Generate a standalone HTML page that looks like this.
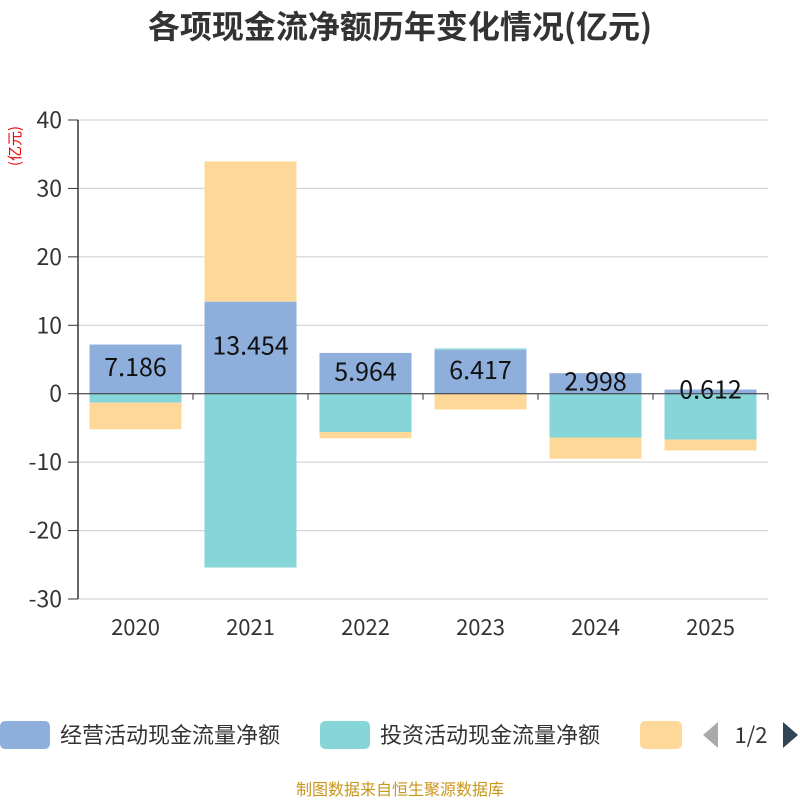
<!DOCTYPE html>
<html><head><meta charset="utf-8">
<style>
body{margin:0;background:#fff;}
svg text{font-family:"Noto Sans CJK SC","DejaVu Sans",sans-serif;}
</style></head>
<body>
<svg id="chart" width="800" height="800" xmlns="http://www.w3.org/2000/svg">
<text x="400" y="38" text-anchor="middle" font-size="32" font-weight="bold" fill="#333">各项现金流净额历年变化情况(亿元)</text>
<text x="16" y="146" font-size="15" fill="#e00" text-anchor="middle" dominant-baseline="middle" transform="rotate(-90 16 146)">(亿元)</text>
<g id="grid"></g>
<g id="bars"></g>
<g id="axes"></g>
<g>
<rect x="0" y="721" width="50" height="28" rx="5" fill="#8eaedb"/>
<text x="60" y="743" font-size="22" fill="#333">经营活动现金流量净额</text>
<rect x="320" y="721" width="50" height="28" rx="5" fill="#86d5d8"/>
<text x="380" y="743" font-size="22" fill="#333">投资活动现金流量净额</text>
<rect x="640" y="721" width="42" height="28" rx="5" fill="#fdd899"/>
<polygon points="718,722 718,748 703,735" fill="#aaa"/>
<text x="751" y="743" font-size="22" fill="#333" text-anchor="middle">1/2</text>
<polygon points="783,722 783,748 798,735" fill="#2f4554"/>
</g>
<text x="400" y="795" text-anchor="middle" font-size="16" fill="#c8961e">制图数据来自恒生聚源数据库</text>
</svg>
<script>
const categories=["2020","2021","2022","2023","2024","2025"];
const operating=[7.186,13.454,5.964,6.417,2.998,0.612];
const investing=[-1.3,-25.4,-5.6,0.2,-6.4,-6.7];
const financing=[-3.9,20.5,-0.9,-2.3,-3.1,-1.6];
const yTicks=[40,30,20,10,0,-10,-20,-30];
const NS="http://www.w3.org/2000/svg";
const x0=78,x1=768,yTop=120,yBot=599,vMax=40,vMin=-30;
function y(v){return yTop+(vMax-v)/(vMax-vMin)*(yBot-yTop);}
const band=(x1-x0)/categories.length;
function xc(i){return x0+band*(i+0.5);}
function mk(tag,attrs,parent){const e=document.createElementNS(NS,tag);for(const k in attrs)e.setAttribute(k,attrs[k]);parent.appendChild(e);return e;}
const grid=document.getElementById('grid'),bars=document.getElementById('bars'),axes=document.getElementById('axes');
yTicks.forEach(t=>{
  const l=mk('line',{x1:x0,x2:x1,y1:y(t),y2:y(t),stroke:'#ccc','stroke-width':1},grid);
  
  
  const tx=mk('text',{x:x0-16,y:y(t)+8,'text-anchor':'end','font-size':23,fill:'#333'},axes);
  tx.textContent=t;
  
  
  const tk=mk('line',{x1:x0-10,x2:x0,y1:y(t),y2:y(t),stroke:'#333'},axes);
  
  
});
const series=[[operating,'#8eaedb','operating'],[investing,'#86d5d8','investing'],[financing,'#fdd899','financing']];
const bw=92;
categories.forEach((c,i)=>{
  let pos=0,neg=0;
  series.forEach(([arr,col,nm])=>{
    const v=arr[i];let a,b;
    if(v>=0){a=pos;b=pos+v;pos=b;}else{a=neg;b=neg+v;neg=b;}
    const r=mk('rect',{x:xc(i)-bw/2,y:Math.min(y(a),y(b)),width:bw,height:Math.abs(y(a)-y(b)),fill:col},bars);
    
    
  });
  const lb=mk('text',{x:xc(i),y:y(operating[i]/2)+7,'text-anchor':'middle','font-size':25,fill:'#111'},bars);
  lb.textContent=operating[i].toFixed(3);
  
  
  const xt=mk('text',{x:xc(i),y:635,'text-anchor':'middle','font-size':22,fill:'#333'},axes);
  xt.textContent=c;
  
  
});
for(let i=0;i<=categories.length;i++){
  const t=mk('line',{x1:x0+band*i,x2:x0+band*i,y1:y(0),y2:y(0)+6,stroke:'#333'},axes);
  
  
}
const ya=mk('line',{x1:x0,x2:x0,y1:yTop,y2:yBot,stroke:'#333','stroke-width':1.5},axes);


const xa=mk('line',{x1:x0,x2:x1,y1:y(0),y2:y(0),stroke:'#333'},axes);


</script>
</body></html>
